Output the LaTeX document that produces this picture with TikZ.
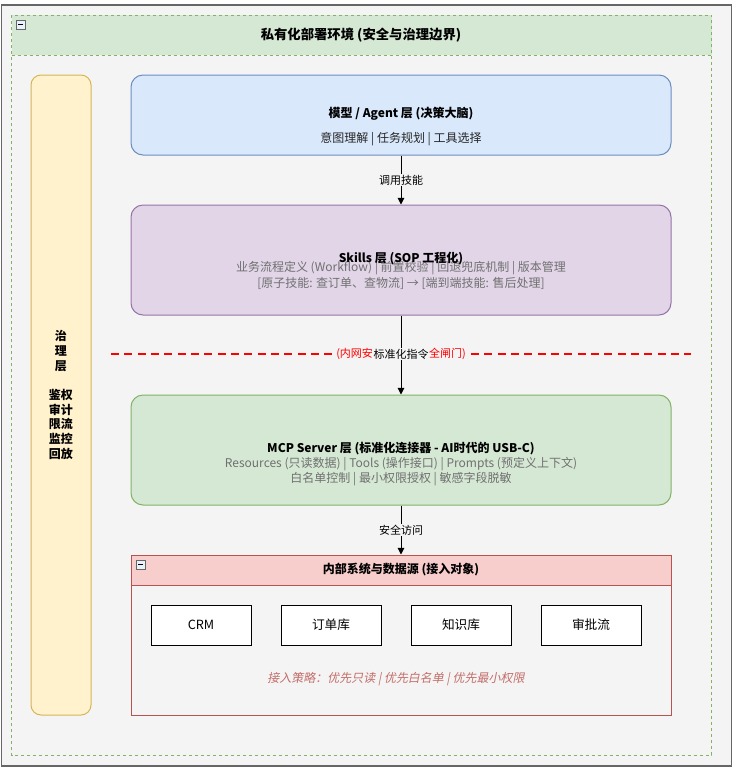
\documentclass[tikz,border=0pt]{standalone}
\usepackage{fontspec}
\setmainfont{Noto Sans CJK SC}
\newfontfamily\slantfont{Noto Sans CJK SC}[FakeSlant=0.2]
\usetikzlibrary{arrows.meta}

\definecolor{pagebg}{HTML}{F4F4F4}
\definecolor{frame}{HTML}{666666}
\definecolor{greenfill}{HTML}{D5E8D4}
\definecolor{greendraw}{HTML}{82B366}
\definecolor{yellowfill}{HTML}{FFF2CC}
\definecolor{yellowdraw}{HTML}{D6B656}
\definecolor{bluefill}{HTML}{DAE8FC}
\definecolor{bluedraw}{HTML}{6C8EBF}
\definecolor{purplefill}{HTML}{E1D5E7}
\definecolor{purpledraw}{HTML}{9673A6}
\definecolor{redfill}{HTML}{F8CECC}
\definecolor{reddraw}{HTML}{B85450}
\definecolor{subtext}{HTML}{707070}
\definecolor{gate}{HTML}{FF0000}

\tikzset{
  px/.style={x=0.75pt,y=-0.75pt},
  layerbox/.style={draw, rounded corners=9pt, line width=0.75pt,
    minimum width=405pt, minimum height=82.5pt, inner sep=0pt},
  srcbox/.style={draw=black, fill=white, line width=0.75pt,
    minimum width=75pt, minimum height=30pt, inner sep=0pt,
    font=\fontsize{9.5pt}{11pt}\selectfont},
  title/.style={font=\bfseries\fontsize{9pt}{11pt}\selectfont, inner sep=0pt},
  sub/.style={text=subtext, font=\fontsize{9pt}{11pt}\selectfont, inner sep=0pt},
  flow/.style={-{Triangle[length=5pt,width=5pt]}, line width=0.75pt},
  flowlabel/.style={fill=pagebg, inner sep=1pt, font=\fontsize{8.25pt}{10pt}\selectfont},
  gatelabel/.style={text=gate, fill=pagebg, inner xsep=0pt, inner ysep=0.6pt,
    font=\fontsize{8.25pt}{10pt}\selectfont},
  collapse/.style={draw=frame, fill=bluefill!60!white, line width=0.5pt,
    minimum size=6.5pt, inner sep=0pt},
}

\begin{document}
\begin{tikzpicture}[px]
  % page
  \fill[white] (0,0) rectangle (738,769);
  \useasboundingbox (0,0) rectangle (738,769);

  % outer frame
  \draw[frame, fill=pagebg, line width=0.9pt] (1.5,5) rectangle (731.5,766);

  % deployment boundary container
  \fill[greenfill] (11.5,15) rectangle (711.5,55);
  \draw[greendraw, line width=0.75pt, dash pattern=on 2.25pt off 2.25pt]
    (11.5,55) -- (711.5,55);
  \draw[greendraw, line width=0.75pt, dash pattern=on 2.25pt off 2.25pt]
    (11.5,15) rectangle (711.5,755);
  \node[collapse] (envtoggle) at (20.5,24.5) {};
  \draw[black, line width=0.6pt] (18.3,24.5) -- (22.7,24.5);
  \node[font=\bfseries\fontsize{10pt}{12pt}\selectfont] (envtitle) at (361,35)
    {私有化部署环境 (安全与治理边界)};

  % governance column
  \node[draw=yellowdraw, fill=yellowfill, rounded corners=7.5pt, line width=0.75pt,
        minimum width=45pt, minimum height=480pt] (gov) at (61,395) {};
  \node[align=center, font=\bfseries\fontsize{9pt}{11pt}\selectfont, inner sep=0pt]
    (govtext) at (61,395) {治\\理\\层\\[11pt]鉴权\\审计\\限流\\监控\\回放};

  % agent layer
  \node[layerbox, fill=bluefill, draw=bluedraw, minimum height=60pt] (agent) at (401,115) {};
  \node[title] (agenttitle) at (401,114) {模型 / Agent 层 (决策大脑)};
  \node[font=\fontsize{9pt}{11pt}\selectfont, text=black!85, inner sep=0pt] (agentsub) at (401,139)
    {意图理解 | 任务规划 | 工具选择};

  % skills layer
  \node[layerbox, fill=purplefill, draw=purpledraw] (skills) at (401,260) {};
  \node[sub] (skillsub1) at (401,268)
    {业务流程定义 (Workflow) | 前置校验 | 回退兜底机制 | 版本管理};
  \node[title] (skillstitle) at (401,259) {Skills 层 (SOP 工程化)};
  \node[sub] (skillsub2) at (401,283)
    {[原子技能: 查订单、查物流] → [端到端技能: 售后处理]};

  % MCP layer
  \node[layerbox, fill=greenfill, draw=greendraw] (mcp) at (401,450) {};
  \node[title] (mcptitle) at (401,449)
    {MCP Server 层 (标准化连接器 - AI时代的 USB-C)};
  \node[sub] (mcpsub1) at (401,464)
    {Resources (只读数据) | Tools (操作接口) | Prompts (预定义上下文)};
  \node[sub] (mcpsub2) at (401,479)
    {白名单控制 | 最小权限授权 | 敏感字段脱敏};

  % internal systems container
  \node[draw=reddraw, line width=0.75pt, minimum width=405pt, minimum height=120pt,
        inner sep=0pt] (sys) at (401,635) {};
  \draw[reddraw, fill=redfill, line width=0.75pt] (131,555) rectangle (671,585);
  \node[collapse] (systoggle) at (140.5,564.5) {};
  \draw[black, line width=0.6pt] (138.3,564.5) -- (142.7,564.5);
  \node[title] (systitle) at (401,570) {内部系统与数据源 (接入对象)};

  \node[srcbox] (crm)   at (201,625) {CRM};
  \node[srcbox] (order) at (331,625) {订单库};
  \node[srcbox] (kb)    at (461,625) {知识库};
  \node[srcbox] (appr)  at (591,625) {审批流};

  \node[text=reddraw!85!white, font=\slantfont\fontsize{9pt}{11pt}\selectfont, inner sep=0pt]
    (policy) at (396,679) {接入策略：优先只读 | 优先白名单 | 优先最小权限};

  % network security gate
  \coordinate (gateL) at (111,354);
  \coordinate (gateR) at (691,354);
  \draw[gate, line width=1.5pt, dash pattern=on 6pt off 4pt] (gateL) -- (gateR);

  % flow between layers
  \draw[flow] (agent) -- node[flowlabel] (l1) {调用技能} (skills);
  \draw[flow] (skills) -- (mcp);
  \node[flowlabel, inner xsep=0pt, inner ysep=0.6pt] (l2) at (401,354) {标准化指令};
  \node[gatelabel, anchor=east] (gate1) at (l2.west) {(内网安};
  \node[gatelabel, anchor=west] (gate2) at (l2.east) {全闸门)};
  \draw[flow] (mcp) -- node[flowlabel] (l3) {安全访问} (sys);
\end{tikzpicture}
\end{document}
